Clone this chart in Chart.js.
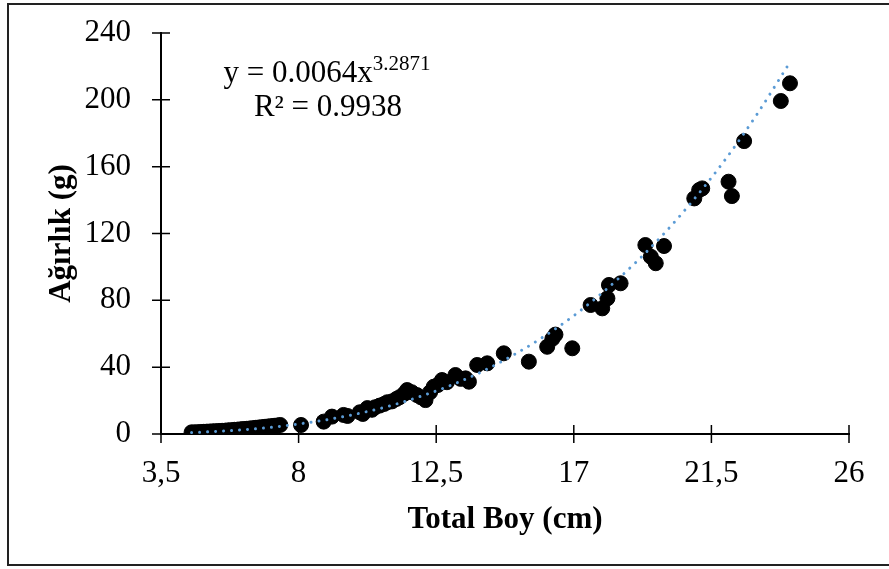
<!DOCTYPE html>
<html>
<head>
<meta charset="utf-8">
<script src="https://cdn.jsdelivr.net/npm/chart.js@4/dist/chart.umd.min.js"></script>
<style>
  body { margin: 0; background: #fff; }
</style>
</head>
<body>
<canvas id="chart" width="889" height="569"></canvas>
<script>
// total length (cm) and weight (g) of each fish
const lengthCm = [
  4.5, 4.6, 4.7, 4.8, 4.9, 5.0, 5.1, 5.2, 5.3, 5.4, 5.5, 5.6, 5.7, 5.8, 5.9,
  6.0, 6.1, 6.2, 6.3, 6.4, 6.5, 6.6, 6.7, 6.8, 6.9, 7.0, 7.1, 7.2, 7.3, 7.4,
  8.08, 8.82, 9.09, 9.47, 9.6, 10.0, 10.1, 10.25, 10.4, 10.5, 10.65, 10.8, 10.9,
  11.05, 11.2, 11.3, 11.45, 11.55, 11.7, 11.87, 12.0, 12.15, 12.3, 12.42, 12.55,
  12.69, 12.85, 13.13, 13.3, 13.46, 13.57, 13.84, 14.17, 14.71, 15.53,
  16.13, 16.3, 16.4, 16.95, 17.55, 17.93, 18.1, 18.15, 18.53,
  19.34, 19.52, 19.68, 19.95, 20.94, 21.1, 21.2, 22.06, 22.17, 22.57, 23.77, 24.07
];
const weightG = [
  1.0, 1.0, 1.1, 1.2, 1.3, 1.4, 1.5, 1.6, 1.7, 1.8, 1.9, 2.0, 2.2, 2.3, 2.5,
  2.6, 2.8, 3.0, 3.1, 3.3, 3.5, 3.7, 3.9, 4.1, 4.3, 4.5, 4.7, 4.9, 5.1, 5.4,
  5.4, 7.4, 10.4, 11.4, 10.8, 13.0, 12.0, 15.5, 14.5, 16.0, 17.0, 18.0, 19.0,
  19.5, 21.0, 22.0, 24.0, 26.3, 25.0, 23.3, 22.0, 20.3, 25.0, 28.3, 29.3,
  32.3, 31.0, 35.3, 33.0, 33.3, 31.3, 41.3, 42.3, 48.3, 43.3,
  52.2, 57.0, 59.5, 51.3, 77.2, 75.2, 81.2, 89.2, 90.2,
  113.1, 106.1, 102.2, 112.5, 141.0, 146.0, 147.0, 151.0, 142.4, 175.3, 199.3, 209.9
];

// power trendline as drawn (y = 0.0064x^3.2871)
const trendX = [4.5, 5, 6, 7, 8, 9, 10, 11, 12, 13, 14, 15, 16, 17, 18, 19, 20, 21, 22, 23, 24];
const trendY = [0.9, 1.3, 2.3, 3.8, 6.0, 8.8, 12.4, 16.9, 22.6, 29.3, 37.4, 47.0, 58.1, 70.8, 85.6, 102.2, 120.9, 142.0, 165.4, 191.6, 220.5];

const xTicks = [3.5, 8, 12.5, 17, 21.5, 26];
const yTicks = [0, 40, 80, 120, 160, 200, 240];

const equationText = 'y = 0.0064x';
const equationPower = '3.2871';
const r2Text = 'R² = 0.9938';

const serif = '"Liberation Serif", "Times New Roman", serif';

const framePlugin = {
  id: 'frame',
  beforeDraw(chart) {
    const ctx = chart.ctx;
    ctx.save();
    ctx.fillStyle = '#fff';
    ctx.fillRect(0, 0, chart.width, chart.height);
    ctx.strokeStyle = '#222';
    ctx.lineWidth = 2;
    ctx.strokeRect(8, 4, chart.width, 561);
    ctx.restore();
  },
  beforeDatasetsDraw(chart) {
    // excel style cross tick marks
    const ctx = chart.ctx;
    const x = chart.scales.x, y = chart.scales.y;
    ctx.save();
    ctx.strokeStyle = '#000';
    ctx.lineWidth = 1.5;
    ctx.beginPath();
    x.ticks.forEach(t => {
      const px = x.getPixelForValue(t.value);
      ctx.moveTo(px, y.bottom - 9);
      ctx.lineTo(px, y.bottom + 9);
    });
    y.ticks.forEach(t => {
      const py = y.getPixelForValue(t.value);
      ctx.moveTo(x.left - 9, py);
      ctx.lineTo(x.left + 9, py);
    });
    ctx.stroke();
    ctx.restore();
  },
  afterDraw(chart) {
    const ctx = chart.ctx;
    ctx.save();
    ctx.fillStyle = '#000';
    ctx.textBaseline = 'alphabetic';
    ctx.font = '31px ' + serif;
    const w1 = ctx.measureText(equationText).width;
    ctx.font = '21px ' + serif;
    const w2 = ctx.measureText(equationPower).width;
    const start = 327 - (w1 + w2) / 2;
    ctx.font = '31px ' + serif;
    ctx.fillText(equationText, start, 82);
    ctx.font = '21px ' + serif;
    ctx.fillText(equationPower, start + w1, 70);
    ctx.font = '31px ' + serif;
    ctx.textAlign = 'center';
    ctx.fillText(r2Text, 328, 116);
    ctx.restore();
  }
};

new Chart(document.getElementById('chart'), {
  type: 'scatter',
  data: {
    datasets: [
      {
        type: 'line',
        label: 'Power',
        data: trendX.map((v, i) => ({ x: v, y: trendY[i] })),
        borderColor: '#5B9BD5',
        borderWidth: 3,
        borderDash: [0.001, 8],
        borderCapStyle: 'round',
        pointRadius: 0,
        cubicInterpolationMode: 'monotone',
        fill: false,
        order: 0
      },
      {
        label: 'Ağırlık',
        data: lengthCm.map((v, i) => ({ x: v, y: weightG[i] })),
        backgroundColor: '#000',
        borderColor: '#000',
        borderWidth: 1,
        pointRadius: 7.5,
        order: 1
      }
    ]
  },
  options: {
    responsive: false,
    animation: false,
    layout: { padding: { left: 0, top: 33, right: 40, bottom: 0 } },
    plugins: {
      legend: { display: false },
      tooltip: { enabled: false }
    },
    scales: {
      x: {
        type: 'linear',
        min: 3.5,
        max: 26,
        afterBuildTicks: s => { s.ticks = xTicks.map(v => ({ value: v })); },
        afterFit: s => { s.height = 135; s.paddingLeft = 0; s.paddingRight = 0; },
        grid: { display: false, drawTicks: false },
        border: { display: true, color: '#000', width: 2 },
        ticks: {
          color: '#000',
          font: { family: serif, size: 31 },
          padding: 21,
          maxRotation: 0,
          callback: v => String(v).replace('.', ',')
        },
        title: {
          display: true,
          text: 'Total Boy (cm)',
          color: '#000',
          font: { family: serif, size: 31, weight: 'bold' },
          padding: { top: 0, bottom: 30 }
        }
      },
      y: {
        min: 0,
        max: 240,
        afterBuildTicks: s => { s.ticks = yTicks.map(v => ({ value: v })); },
        afterFit: s => { s.width = 161; s.paddingTop = 0; s.paddingBottom = 0; },
        grid: { display: false, drawTicks: false },
        border: { display: true, color: '#000', width: 2 },
        ticks: {
          color: '#000',
          font: { family: serif, size: 31 },
          padding: 30
        },
        title: {
          display: true,
          text: 'Ağırlık (g)',
          color: '#000',
          font: { family: serif, size: 31, weight: 'bold' },
          padding: { top: 43, bottom: 0 }
        }
      }
    }
  },
  plugins: [framePlugin]
});
</script>
</body>
</html>
